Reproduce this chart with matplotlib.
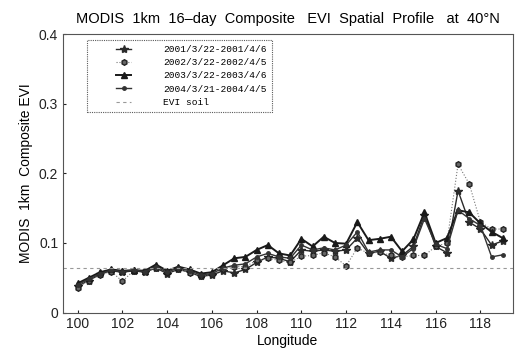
import numpy as np
import matplotlib
matplotlib.use("Agg")
import matplotlib.pyplot as plt
from matplotlib.lines import Line2D
from matplotlib.legend_handler import HandlerLine2D

plt.rcParams['font.family'] = ['Liberation Sans', 'DejaVu Sans']

# longitude of each sample (0.5 degree steps)
lon = np.arange(100, 119.01, 0.5)

evi_2001 = [0.038, 0.046, 0.055, 0.060, 0.058, 0.060, 0.058, 0.064, 0.056, 0.062,
            0.058, 0.052, 0.054, 0.060, 0.057, 0.062, 0.072, 0.080, 0.078, 0.073,
            0.090, 0.088, 0.090, 0.088, 0.090, 0.107, 0.085, 0.088, 0.078, 0.082,
            0.095, 0.140, 0.095, 0.086, 0.175, 0.130, 0.120, 0.097, 0.103]
evi_2002 = [0.036, 0.046, 0.054, 0.059, 0.045, 0.060, 0.060, 0.064, 0.058, 0.063,
            0.057, 0.052, 0.055, 0.062, 0.066, 0.066, 0.075, 0.078, 0.075, 0.072,
            0.081, 0.082, 0.086, 0.080, 0.067, 0.093, 0.085, 0.087, 0.082, 0.080,
            0.082, 0.082, 0.095, 0.100, 0.213, 0.185, 0.130, 0.120, 0.120]
evi_2003 = [0.042, 0.050, 0.058, 0.062, 0.060, 0.061, 0.060, 0.069, 0.060, 0.066,
            0.062, 0.056, 0.058, 0.068, 0.078, 0.080, 0.090, 0.097, 0.085, 0.082,
            0.106, 0.095, 0.109, 0.100, 0.099, 0.130, 0.104, 0.106, 0.109, 0.088,
            0.105, 0.144, 0.100, 0.107, 0.147, 0.144, 0.128, 0.116, 0.107]
evi_2004 = [0.040, 0.048, 0.056, 0.061, 0.059, 0.061, 0.059, 0.066, 0.058, 0.064,
            0.060, 0.054, 0.056, 0.064, 0.068, 0.070, 0.080, 0.085, 0.080, 0.078,
            0.097, 0.090, 0.093, 0.090, 0.097, 0.116, 0.087, 0.090, 0.090, 0.080,
            0.092, 0.135, 0.098, 0.092, 0.147, 0.135, 0.125, 0.080, 0.083]
evi_soil = 0.064

labels = ["2001/3/22-2001/4/6", "2002/3/22-2002/4/5",
          "2003/3/22-2003/4/6", "2004/3/21-2004/4/5", "EVI soil"]


class ShortLine(HandlerLine2D):
    # legend handle: marker in the middle with a short line piece
    def get_xdata(self, legend, xdescent, ydescent, width, height, fontsize):
        c = -xdescent + width / 2
        half = width * 0.12
        return np.array([c - half, c + half]), np.array([c])


fig = plt.figure(figsize=(5.17, 3.52), dpi=100)
ax = fig.add_axes([0.122, 0.112, 0.870, 0.791])

ax.plot(lon, evi_2001, color='#2a2a2a', lw=1.0, marker='*', ms=6, label=labels[0])
ax.plot(lon, evi_2002, color='#777777', lw=0.8, ls=':', marker='h', ms=4,
        mfc='#666666', mec='#222222', label=labels[1])
ax.plot(lon, evi_2003, color='#1a1a1a', lw=1.4, marker='^', ms=4, label=labels[2])
ax.plot(lon, evi_2004, color='#333333', lw=1.0, marker='.', ms=5, label=labels[3])
ax.axhline(evi_soil, color='#999999', lw=0.8, ls=(0, (3, 3)), label=labels[4])

ax.set_xlim(99.35, 119.45)
ax.set_ylim(0, 0.4)
ax.set_xticks(np.arange(100, 119, 2))
ax.set_yticks([0, 0.1, 0.2, 0.3, 0.4])
ax.set_yticklabels(["0", "0.1", "0.2", "0.3", "0.4"])
ax.tick_params(direction='in', length=2, labelsize=10, colors='#222222')

for s in ax.spines.values():
    s.set_linestyle((0, (1, 1)))
    s.set_color('#555555')
    s.set_linewidth(0.8)

ax.set_xlabel("Longitude", fontsize=10, labelpad=2)
ax.set_ylabel("MODIS  1km  Composite EVI", fontsize=10, labelpad=4)
ax.set_title("MODIS  1km  16\u2013day  Composite   EVI  Spatial  Profile   at  40\u00b0N",
             fontsize=10.5, pad=8)

leg = ax.legend(loc='upper left', bbox_to_anchor=(0.053, 0.978), borderaxespad=0,
                prop={'family': 'Liberation Mono', 'size': 6.8},
                frameon=True, fancybox=False, numpoints=1,
                handler_map={Line2D: ShortLine(numpoints=1)},
                handlelength=6.8, handletextpad=0.8, borderpad=0.5,
                labelspacing=0.45)
leg.get_frame().set_edgecolor('#333333')
leg.get_frame().set_linestyle((0, (1, 1)))
leg.get_frame().set_linewidth(0.8)

fig.savefig("out.png", dpi=100)
